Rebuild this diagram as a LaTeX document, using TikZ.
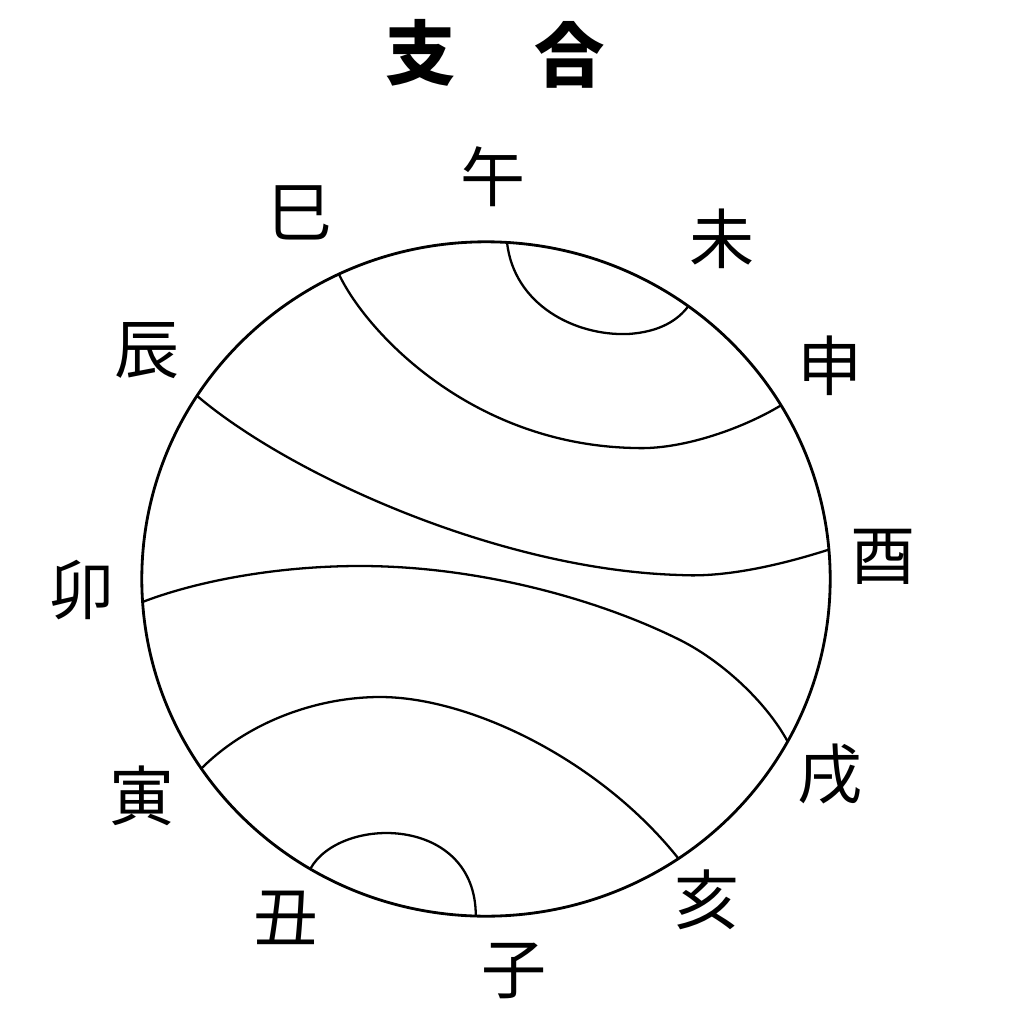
\documentclass[tikz,border=0pt]{standalone}
\usepackage{fontspec}
\newfontfamily\cjk{Noto Sans CJK JP}
\usetikzlibrary{calc}
\begin{document}
\begin{tikzpicture}[x=0.01cm,y=-0.01cm,
  lbl/.style={font=\cjk\fontsize{18.5}{18.5}\selectfont, inner sep=0pt},
  ttl/.style={font=\cjk\bfseries\fontsize{20}{20}\selectfont, inner sep=0pt},
  rim/.style={line width=0.8pt},
  chord/.style={line width=0.65pt}]
\useasboundingbox (0,0) rectangle (1024,1024);
\fill[white] (0,0) rectangle (1024,1024);
\coordinate (O) at (486,579);
\draw[rim] (O) ellipse [x radius=3.44cm, y radius=3.37cm];
% points on the rim
\coordinate (wu)   at ($(O)+(86.5:3.44cm and 3.37cm)$);
\coordinate (wei)  at ($(O)+(54:3.44cm and 3.37cm)$);
\coordinate (si)   at ($(O)+(115.3:3.44cm and 3.37cm)$);
\coordinate (shen) at ($(O)+(31:3.44cm and 3.37cm)$);
\coordinate (chen) at ($(O)+(147.1:3.44cm and 3.37cm)$);
\coordinate (you)  at ($(O)+(5:3.44cm and 3.37cm)$);
\coordinate (mao)  at ($(O)+(183.9:3.44cm and 3.37cm)$);
\coordinate (xu)   at ($(O)+(-28.8:3.44cm and 3.37cm)$);
\coordinate (yin)  at ($(O)+(214.2:3.44cm and 3.37cm)$);
\coordinate (hai)  at ($(O)+(-56:3.44cm and 3.37cm)$);
\coordinate (chou) at ($(O)+(239.3:3.44cm and 3.37cm)$);
\coordinate (zi)   at ($(O)+(268.3:3.44cm and 3.37cm)$);
% pairing curves
\draw[chord] (wu) .. controls (514,305) and (575,336) .. (628,334)
                  .. controls (660,332) and (678,320) .. (wei);
\draw[chord] (si) .. controls (365,330) and (470,445) .. (635,448)
                  .. controls (680,450) and (740,430) .. (shen);
\draw[chord] (chen) .. controls (290,475) and (500,570) .. (680,575)
                    .. controls (730,578) and (790,562) .. (you);
\draw[chord] (mao) .. controls (200,580) and (280,566) .. (360,566)
                   .. controls (480,566) and (600,600) .. (680,640)
                   .. controls (720,660) and (765,700) .. (xu);
\draw[chord] (yin) .. controls (250,720) and (320,697) .. (380,697)
                   .. controls (470,697) and (600,760) .. (hai);
\draw[chord] (chou) .. controls (340,815) and (476,815) .. (zi);
% labels
\node[ttl] (t1) at (421,53) {支};
\node[ttl] (t2) at (570,55) {合};
\node[lbl] (Lwu)   at (493,177) {午};
\node[lbl] (Lwei)  at (722,239) {未};
\node[lbl] (Lsi)   at (300,213) {巳};
\node[lbl] (Lshen) at (830,366) {申};
\node[lbl] (Lchen) at (147,351) {辰};
\node[lbl] (Lyou)  at (883,557) {酉};
\node[lbl] (Lmao)  at (82,590) {卯};
\node[lbl] (Lxu)   at (830,774) {戌};
\node[lbl] (Lyin)  at (142,796) {寅};
\node[lbl] (Lhai)  at (707,900) {亥};
\node[lbl] (Lchou) at (286,918) {丑};
\node[lbl] (Lzi)   at (514,971) {子};
\end{tikzpicture}
\end{document}
